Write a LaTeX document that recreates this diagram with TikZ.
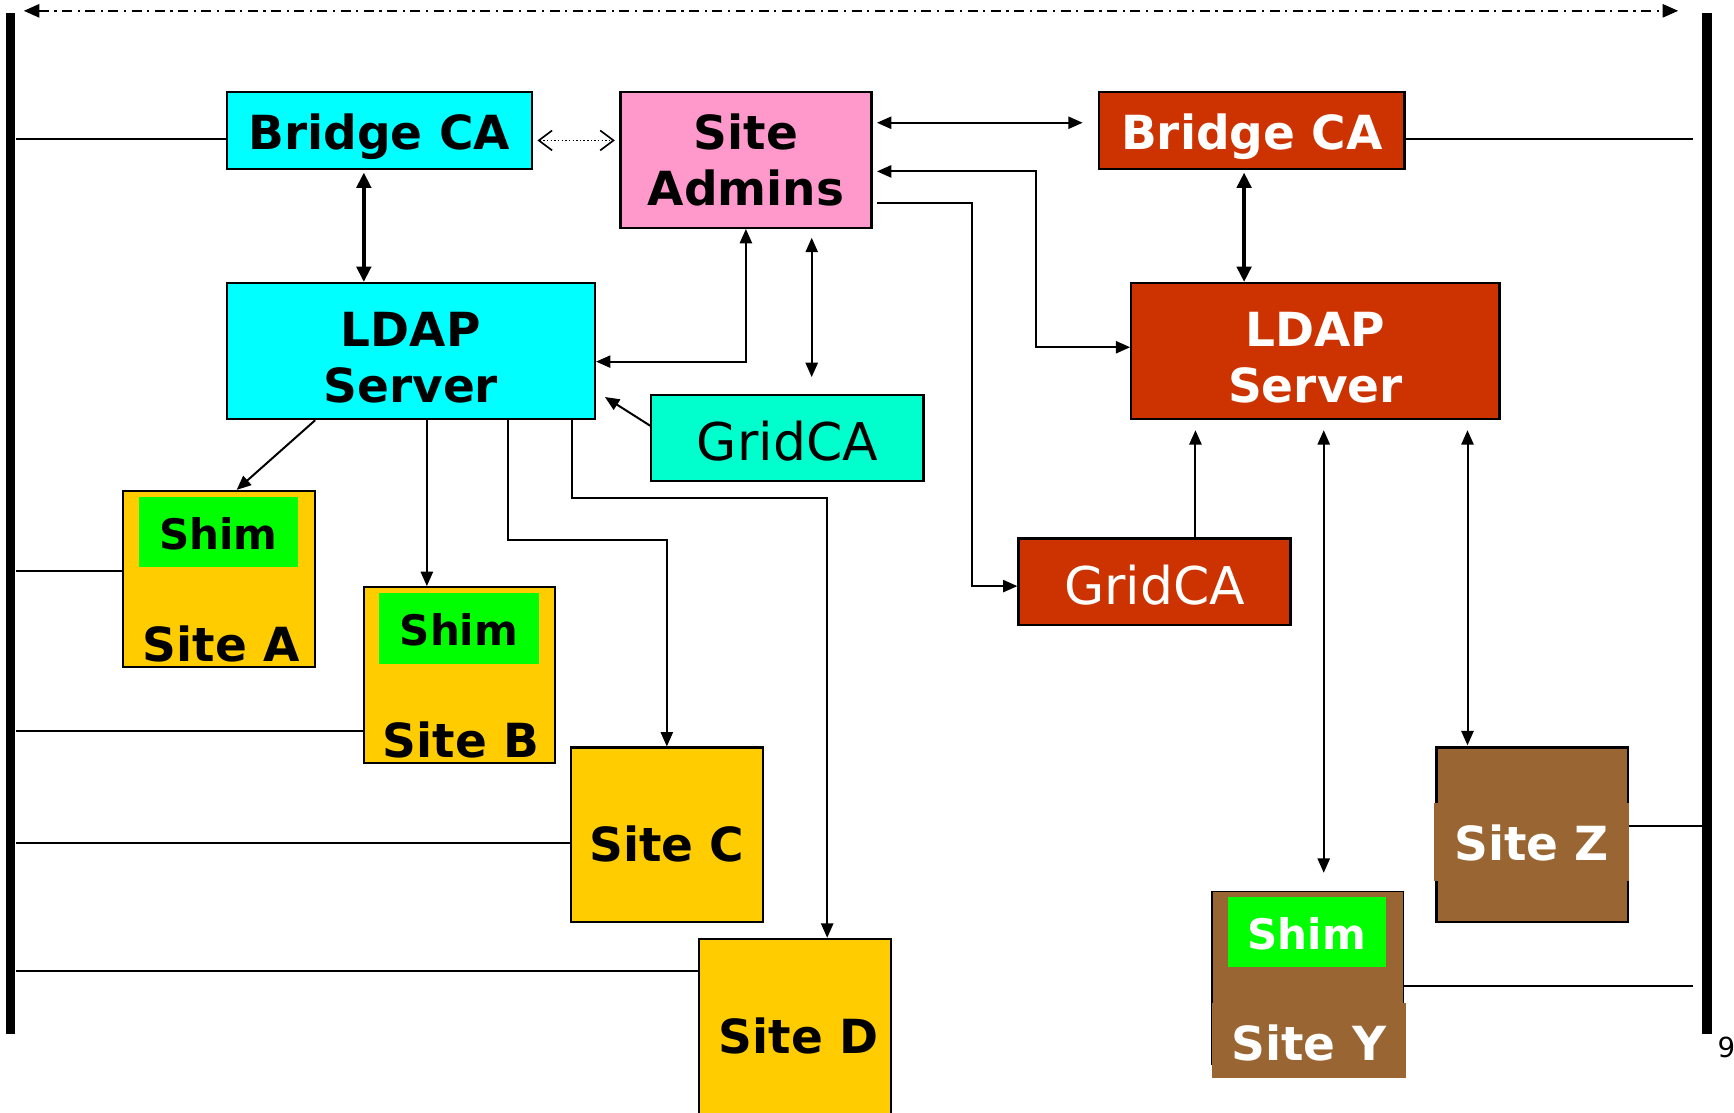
\documentclass[tikz,border=0pt]{standalone}
\usepackage{fontspec}
\setmainfont{DejaVu Sans}
\usetikzlibrary{arrows.meta}

\definecolor{cacyan}{HTML}{00FFFF}
\definecolor{adminpink}{HTML}{FF99CC}
\definecolor{rustred}{HTML}{CC3300}
\definecolor{gridaqua}{HTML}{00FFCC}
\definecolor{sitegold}{HTML}{FFCC00}
\definecolor{shimgreen}{HTML}{00FF00}
\definecolor{sitebrown}{HTML}{996633}

\newcommand\boxfont{\fontsize{42.5}{51}\bfseries\selectfont}
\newcommand\shimfont{\fontsize{38}{44}\bfseries\selectfont}
\newcommand\gridfont{\fontsize{47}{54}\selectfont}
% lower a label inside its box without changing the box size
\newcommand\dropby[2]{\raisebox{-#1}[\height][\depth]{#2}}
\newcommand\twolines[2]{\begin{tabular}{@{}c@{}}#1\\#2\end{tabular}}

\tikzset{
  unit/.style={draw=black, line width=2pt, inner sep=0pt},
  cabox/.style={unit, minimum width=276pt, minimum height=70pt, font=\boxfont},
  ldapbox/.style={unit, minimum width=333pt, minimum height=123pt, font=\boxfont},
  gridbox/.style={unit, minimum width=246pt, minimum height=78pt, font=\gridfont},
  sitebox/.style={unit, fill=sitegold, minimum width=174pt, minimum height=158pt},
  shimbox/.style={fill=shimgreen, inner sep=0pt, minimum width=144pt, minimum height=64pt, font=\shimfont},
  sitelbl/.style={inner sep=0pt, font=\boxfont, anchor=base},
  bar/.style={fill=black, inner sep=0pt, minimum width=9pt, minimum height=923pt},
  link/.style={line width=1.8pt},
  arr/.style={line width=1.8pt, -{Triangle[length=13pt,width=11pt]}},
  darr/.style={line width=1.8pt, {Triangle[length=13pt,width=11pt]}-{Triangle[length=13pt,width=11pt]}},
  fatarr/.style={line width=4pt, {Triangle[length=14pt,width=13pt]}-{Triangle[length=14pt,width=13pt]}},
  openarr/.style={line width=1.3pt, dotted, {Straight Barb[length=12pt,width=18pt,line width=1.5pt]}-{Straight Barb[length=12pt,width=18pt,line width=1.5pt]}},
  spanarr/.style={line width=1.6pt, dash pattern=on 9pt off 5pt on 2pt off 5pt,
    {Triangle[length=14pt,width=12pt]}-{Triangle[length=14pt,width=12pt]}},
}

\begin{document}
\begin{tikzpicture}[x=1pt, y=-1pt]
\useasboundingbox (0,0) rectangle (1568,1006);

% domain boundaries
\node[bar] (barL) at (9.5,473.5) {};
\node[bar] (barR) at (1543.5,473.5) {};
\draw[spanarr] ([shift={(12pt,2pt)}]barL.north) -- ([shift={(-26pt,2pt)}]barR.north);
\node[anchor=base west, inner sep=0pt, font=\fontsize{25}{28}\selectfont] (pagenum) at (1553,956) {9};

% left domain (cyan)
\node[cabox, fill=cacyan] (bcaL) at (343,118) {\dropby{6pt}{Bridge CA}};
\node[ldapbox, fill=cacyan] (ldapL) at (371.5,317.5) {\dropby{11pt}{\twolines{LDAP}{Server}}};
\node[gridbox, fill=gridaqua] (gridL) at (712,396) {\dropby{3pt}{GridCA}};

% shared administrators
\node[unit, fill=adminpink, minimum width=227pt, minimum height=123pt, font=\boxfont] (admins) at (674.5,144.5) {\dropby{6pt}{\twolines{Site}{Admins}}};

% right domain (red)
\node[cabox, fill=rustred, text=white] (bcaR) at (1132,118) {\dropby{6pt}{Bridge CA}};
\node[ldapbox, fill=rustred, text=white] (ldapR) at (1189.5,317.5) {\dropby{11pt}{\twolines{LDAP}{Server}}};
\node[gridbox, fill=rustred, text=white] (gridR) at (1044,526) {\dropby{3pt}{GridCA}};

% sites of the left domain
\node[sitebox, minimum height=159pt] (siteA) at (198,523.5) {};
\node[shimbox] (shimA) at (197.5,481) {\dropby{1.5pt}{Shim}};
\node[sitelbl] (lblA) at (200,598) {Site A};

\node[sitebox, minimum width=173pt, minimum height=159pt] (siteB) at (415.5,610.5) {};
\node[shimbox] (shimB) at (415,568) {\dropby{1.5pt}{Shim}};
\node[sitelbl] (lblB) at (417,685) {Site B};

\node[sitebox] (siteC) at (603,755) {};
\node[sitelbl] (lblC) at (603,779) {Site C};

\node[sitebox, minimum height=170pt] (siteD) at (719,934) {};
\node[sitelbl] (lblD) at (722,953) {Site D};

% sites of the right domain
\node[sitebox, fill=sitebrown, minimum width=173pt] (siteZ) at (1385.5,755) {};
\node[fill=sitebrown, inner sep=0pt, minimum width=176pt, minimum height=71pt, text=white, font=\boxfont] (lblZ) at (1385,761.5) {\dropby{1pt}{Site Z}};

\node[sitebox, fill=sitebrown, minimum width=173pt, minimum height=156pt, line width=1.5pt] (siteY) at (1182.5,884) {};
\node[shimbox, minimum width=143pt, minimum height=63pt, text=white] (shimY) at (1181.5,842.5) {\dropby{1.5pt}{Shim}};
\node[fill=sitebrown, inner sep=0pt, minimum width=175pt, minimum height=68pt, text=white, font=\boxfont] (lblY) at (1183.5,941) {\dropby{2pt}{Site Y}};

% attachments to the domain boundaries
\draw[link] ([yshift=-8pt]bcaL.west) -- ([yshift=-8pt]bcaL.west -| barL.east);
\draw[link] ([yshift=-8pt]bcaR.east) -- ([shift={(-8pt,-8pt)}]bcaR.east -| barR.west);
\draw[link] ([yshift=7.5pt]siteA.west) -- ([yshift=7.5pt]siteA.west -| barL.east);
\draw[link] ([yshift=-50.5pt]siteB.west) -- ([yshift=-50.5pt]siteB.west -| barL.east);
\draw[link] ([yshift=-7pt]siteC.west) -- ([yshift=-7pt]siteC.west -| barL.east);
\draw[link] ([yshift=56pt]siteD.west) -- ([yshift=56pt]siteD.west -| barL.east);
\draw[link] ([yshift=8pt]siteZ.east) -- ([yshift=8pt]siteZ.east -| barR.west);
\draw[link] ([yshift=-8pt]siteY.east) -- ([shift={(-8pt,-8pt)}]siteY.east -| barR.west);

% cross-certification and administration links
\draw[openarr] ([shift={(4pt,-9pt)}]bcaL.east) -- ([shift={(-4pt,17.5pt)}]admins.west);
\draw[darr] ([shift={(4pt,33.5pt)}]admins.east) -- ([shift={(-14pt,7pt)}]bcaR.west);
\draw[fatarr] ([shift={(-14pt,-2pt)}]bcaL.south) -- ([shift={(-14pt,0pt)}]bcaL.south |- ldapL.north);
\draw[fatarr] ([shift={(-7pt,-2pt)}]bcaR.south) -- ([shift={(-7pt,0pt)}]bcaR.south |- ldapR.north);
\draw[darr] (admins.south) |- ([yshift=-9.5pt]ldapL.east);
\draw[darr] ([shift={(59.5pt,-8pt)}]admins.south) -- ([shift={(22pt,15pt)}]gridL.north);
\draw[arr] ([yshift=11pt]gridL.west) -- ([shift={(8pt,21pt)}]ldapL.south east);
\draw[darr] ([shift={(4pt,-10.5pt)}]admins.east) -- ++(144,0) |- ([yshift=3.5pt]ldapR.west);
\draw[arr] ([shift={(4pt,-39.5pt)}]admins.east) -- ++(86,0) |- ([yshift=-4pt]gridR.west);

% right LDAP server links
\draw[arr, shorten >=9pt] ([xshift=37pt]gridR.north) -- ([xshift=37pt]gridR.north |- ldapR.south);
\draw[darr, shorten <=9pt, shorten >=16pt] ([xshift=7.5pt]ldapR.south) -- ([xshift=7.5pt]ldapR.south |- siteY.north);
\draw[darr, shorten <=9pt, shorten >=1pt] ([xshift=137.5pt]ldapR.south) -- ([xshift=137.5pt]ldapR.south |- siteZ.north);

% left LDAP server distribution to sites
\draw[arr] ([xshift=-86.5pt]ldapL.south) -- ([xshift=16pt]siteA.north);
\draw[arr] ([xshift=14.5pt]ldapL.south) -- ([xshift=14.5pt]ldapL.south |- siteB.north);
\draw[arr] ([xshift=87.5pt]ldapL.south) -- ++(0,108) -| (siteC.north);
\draw[arr] ([xshift=145.5pt]ldapL.south) -- ++(0,70) -| ([xshift=29pt]siteD.north);
\end{tikzpicture}
\end{document}
